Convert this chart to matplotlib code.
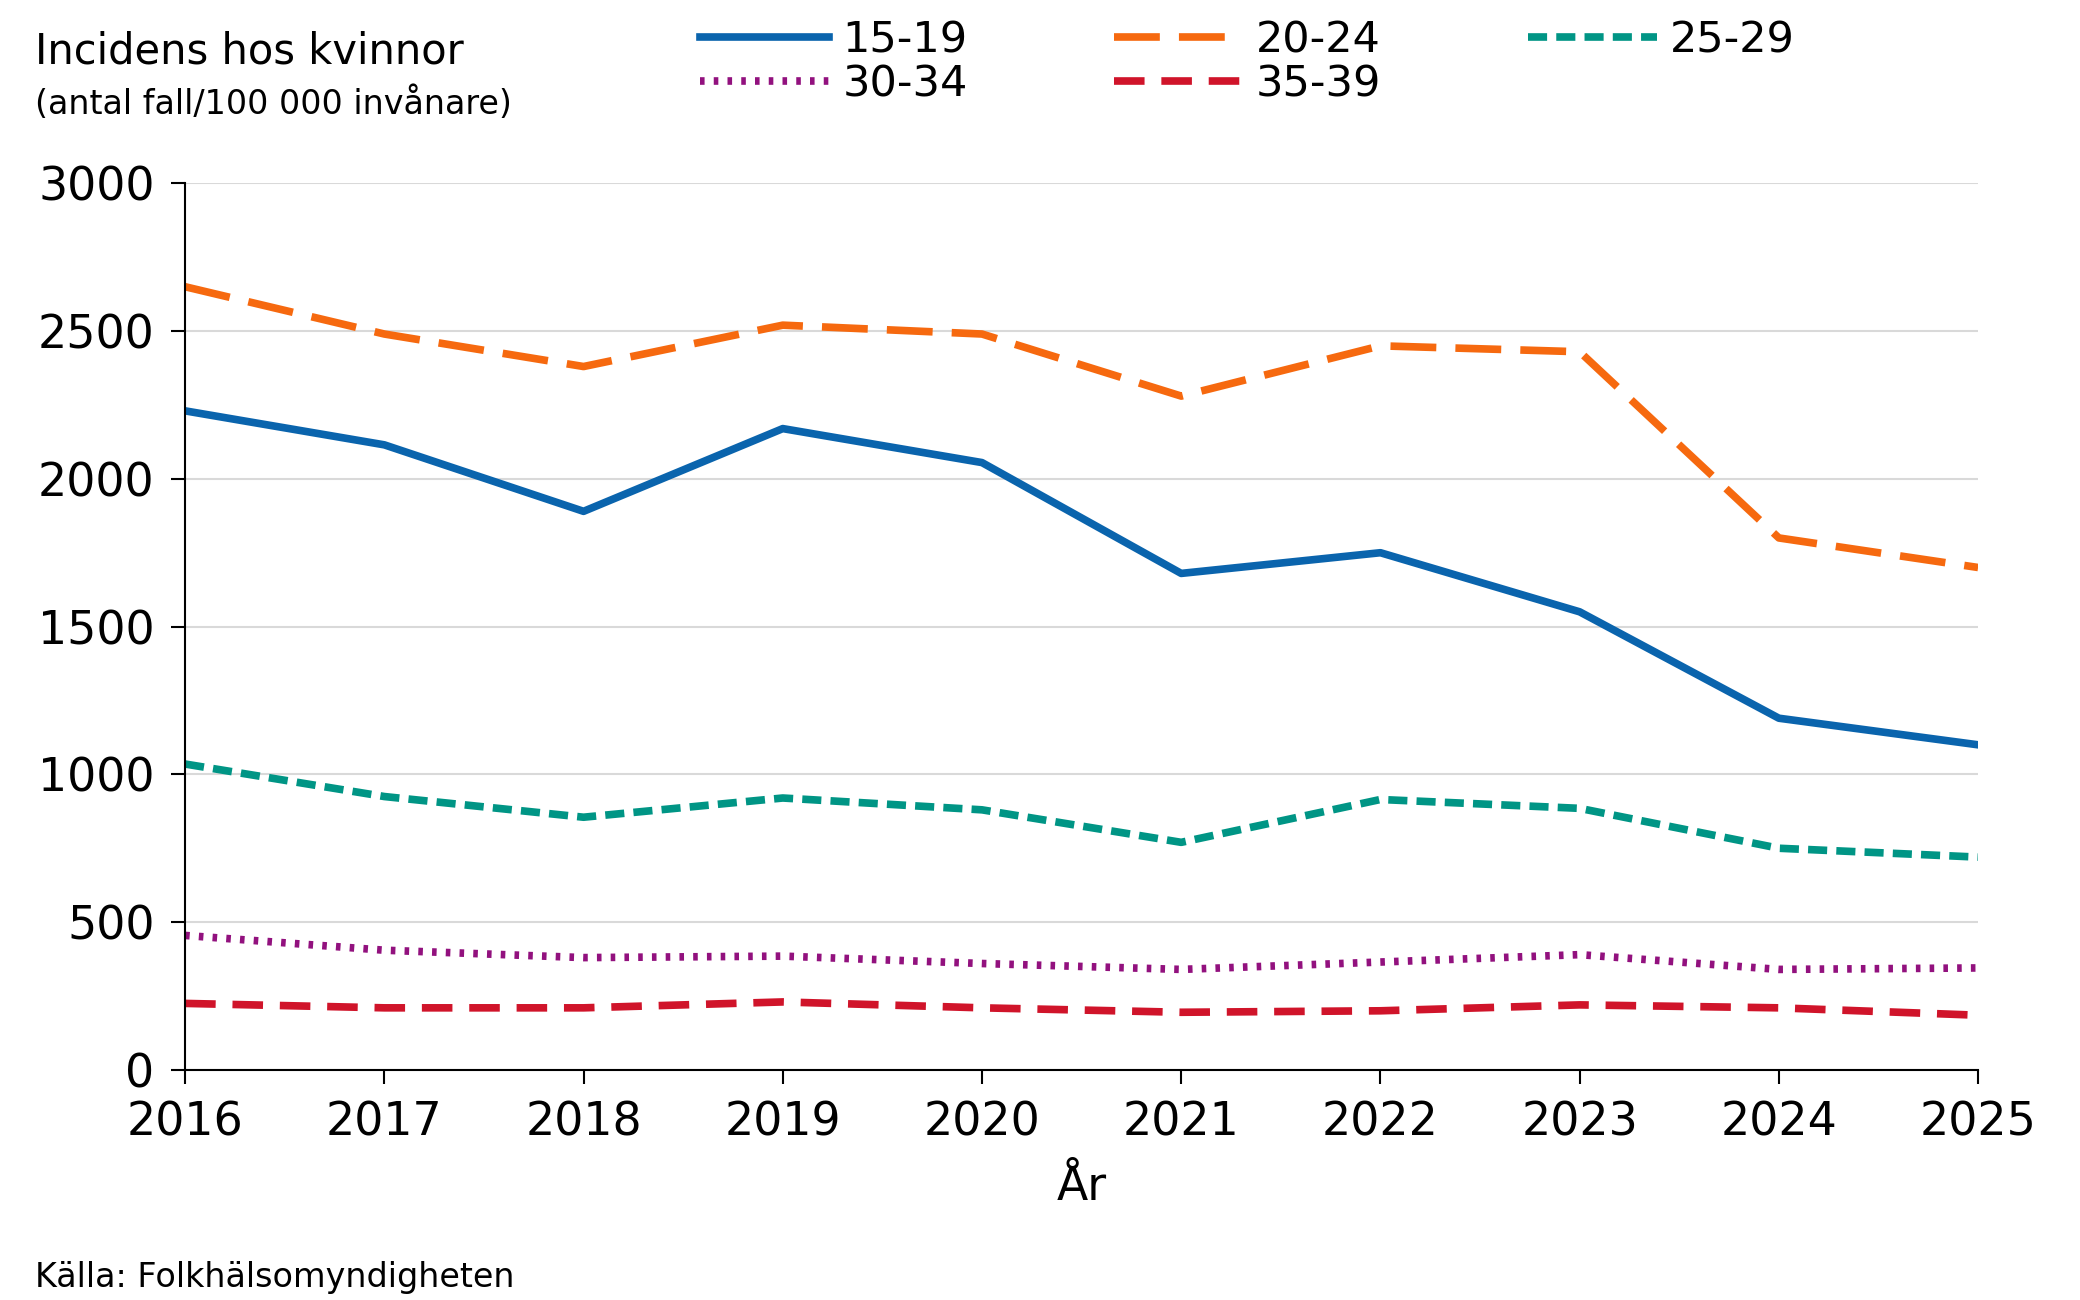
import matplotlib
matplotlib.use("Agg")
import matplotlib.pyplot as plt

years = [2016, 2017, 2018, 2019, 2020, 2021, 2022, 2023, 2024, 2025]
s15_19 = [2230, 2115, 1890, 2170, 2055, 1680, 1750, 1550, 1190, 1100]
s20_24 = [2650, 2490, 2380, 2520, 2490, 2280, 2450, 2430, 1800, 1700]
s25_29 = [1035, 925, 855, 920, 880, 770, 915, 885, 750, 720]
s30_34 = [455, 405, 380, 385, 360, 340, 365, 390, 340, 345]
s35_39 = [225, 210, 210, 230, 210, 195, 200, 220, 210, 185]
labels = ["15-19", "20-24", "25-29", "30-34", "35-39"]

fig = plt.figure(figsize=(20.8, 13), dpi=100)
ax = fig.add_axes([0.089, 0.177, 0.862, 0.682])
lw = 5.5
h = []
h += ax.plot(years, s15_19, color="#0a64ad", lw=lw, label=labels[0])
h += ax.plot(years, s20_24, color="#f6690f", lw=lw, dashes=(6, 2.5), label=labels[1])
h += ax.plot(years, s25_29, color="#009585", lw=lw, dashes=(2.5, 1.2), label=labels[2])
h += ax.plot(years, s30_34, color="#92117e", lw=lw, dashes=(0.6, 1.2), label=labels[3])
h += ax.plot(years, s35_39, color="#d0142a", lw=lw, dashes=(4, 2.2), label=labels[4])

ax.set_xlim(2016, 2025)
ax.set_ylim(0, 3000)
ax.set_xticks(years)
ax.set_yticks(range(0, 3001, 500))
ax.grid(axis="y", color="#d9d9d9", lw=1.5)
ax.set_axisbelow(True)
for s in ["top", "right"]:
    ax.spines[s].set_visible(False)
for s in ["left", "bottom"]:
    ax.spines[s].set_linewidth(1.5)
ax.tick_params(labelsize=33, length=10, width=1.5, pad=12)
ax.set_xlabel("År", fontsize=33, labelpad=14)

fig.text(0.017, 0.96, "Incidens hos kvinnor", fontsize=30, va="center")
fig.text(0.017, 0.92, "(antal fall/100 000 invånare)", fontsize=24, va="center")
fig.text(0.017, 0.005, "Källa: Folkhälsomyndigheten", fontsize=24, va="bottom")

order = [0, 3, 1, 4, 2]
fig.legend([h[i] for i in order], [labels[i] for i in order], ncol=3,
           loc="upper left", bbox_to_anchor=(0.318, 1.015), frameon=False,
           fontsize=31, handlelength=3.0, columnspacing=3.4, labelspacing=0.05,
           handletextpad=0.3)

fig.savefig("out.png", dpi=100)
